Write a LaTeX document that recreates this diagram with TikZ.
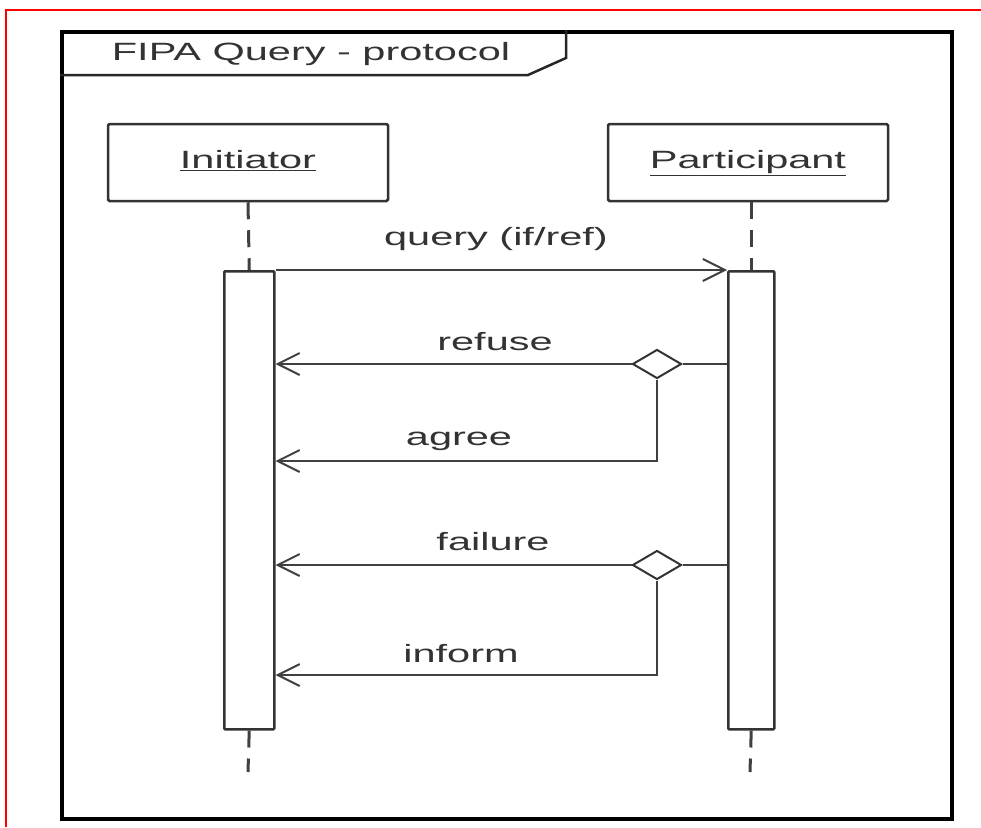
\documentclass[tikz,border=0pt]{standalone}
\usepackage{fontspec}
\setmainfont{Liberation Sans}
\usepackage{graphicx}
\usetikzlibrary{arrows.meta,shapes.geometric}
% labels are set in a widened sans face
\newcommand\wtxt[1]{\scalebox{1.66}[1]{#1}}
\begin{document}
\begin{tikzpicture}[x=1pt,y=-1pt,
  every node/.style={font=\fontsize{25}{30}\selectfont, text=black!80},
  lifebox/.style={draw=black!80, line width=2.5pt, rounded corners=1.5pt,
    minimum width=280pt, minimum height=77pt, inner sep=0pt,
    text height=18pt, text depth=6pt},
  actbar/.style={draw=black!80, line width=2.5pt, rounded corners=1pt, fill=white,
    minimum width=#1, minimum height=458pt, inner sep=0pt, anchor=north west},
  choice/.style={diamond, draw=black!80, line width=2pt, fill=white,
    minimum width=49pt, minimum height=29pt, inner sep=0pt},
  msg/.style={draw=black!75, line width=2pt},
  reply/.style={msg, -{Straight Barb[length=22pt,width=22pt,line width=2pt]}},
  lifeline/.style={draw=black!75, line width=3pt, dash pattern=on 17pt off 11pt},
  msglabel/.style={anchor=base, inner sep=0pt},
]
\useasboundingbox (0,0) rectangle (981,827);

% page edge marks
\draw[red, line width=2pt] (6,827) -- (6,10) -- (981,10);

% diagram frame and its name tab
\node[draw=black, line width=3.5pt, minimum width=890pt, minimum height=787pt,
  inner sep=0pt, anchor=north west] (frame) at (60,30) {};
\coordinate (tabbl) at (60,75);
\coordinate (tabcut) at (528,75);
\coordinate (tabside) at (566,58);
\coordinate (tabtop) at (566,30);
\draw[draw=black!85, line width=2.5pt] (tabbl) -- (tabcut) -- (tabside) -- (tabtop);
\node[msglabel] (title) at (311,60) {\wtxt{FIPA Query - protocol}};

% lifeline heads
\node[lifebox] (ibox) at (248,162.5) {\wtxt{\underline{Initiator}}};
\node[lifebox] (pbox) at (748,162.5) {\wtxt{\underline{Participant}}};

% activation bars
\node[actbar=50pt] (ibar) at (223,270) {};
\node[actbar=46pt] (pbar) at (727,270) {};

% lifelines
\coordinate (iend) at (248,772);
\coordinate (pend) at (750,772);
\draw[lifeline] (ibox.south) -- (ibar.north);
\draw[lifeline] (pbox.south -| pbar.north) -- (pbar.north);
\draw[lifeline] (ibar.south) -- (iend);
\draw[lifeline] (pbar.south) -- (pend);

% query
\draw[reply] (ibar.north east) -- (pbar.north west);
\node[msglabel] (lquery) at (496,245) {\wtxt{query (if/ref)}};

% refuse / agree
\node[choice] (c1) at (657,364) {};
\coordinate (agreey) at (657,461);
\draw[msg] (pbar.west |- c1) -- (c1.east);
\draw[reply] (c1.west) -- (ibar.east |- c1);
\draw[reply] (c1.south) -- (agreey) -- (ibar.east |- agreey);
\node[msglabel] (lrefuse) at (495,350) {\wtxt{refuse}};
\node[msglabel] (lagree) at (459,445) {\wtxt{agree}};

% failure / inform
\node[choice] (c2) at (657,565) {};
\coordinate (informy) at (657,675);
\draw[msg] (pbar.west |- c2) -- (c2.east);
\draw[reply] (c2.west) -- (ibar.east |- c2);
\draw[reply] (c2.south) -- (informy) -- (ibar.east |- informy);
\node[msglabel] (lfailure) at (493,550) {\wtxt{failure}};
\node[msglabel] (linform) at (461,662) {\wtxt{inform}};
\end{tikzpicture}
\end{document}
